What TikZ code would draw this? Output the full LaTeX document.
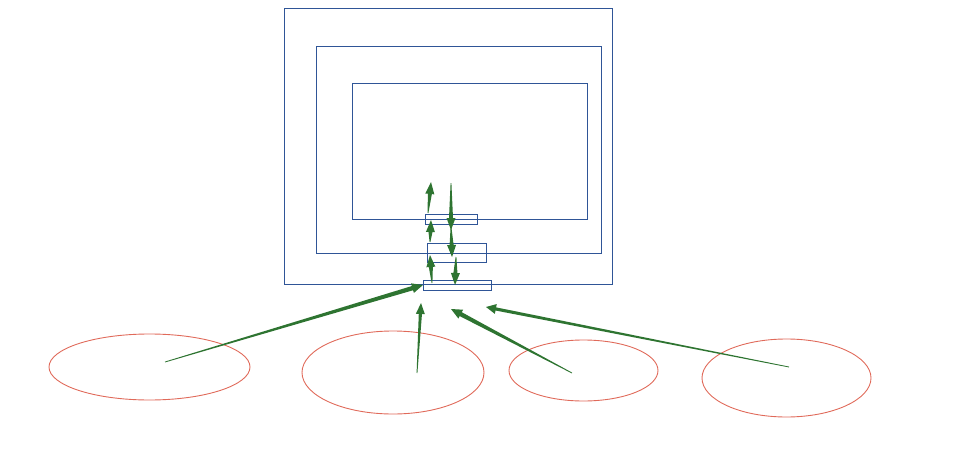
\documentclass[tikz,border=0pt]{standalone}
\usepackage{xcolor}
\usepackage{tikz}
\usetikzlibrary{calc,shapes.geometric}
\definecolor{boxblue}{HTML}{2F5597}
\definecolor{ellred}{HTML}{E06A5A}
\definecolor{arrgreen}{HTML}{2E7431}
\tikzset{
  layer/.style={draw=boxblue,line width=0.9pt,rectangle,inner sep=0pt},
  source/.style={draw=ellred,line width=0.9pt,ellipse,inner sep=0pt}
}
% tapered arrow: tail, tip, shaft half width, head half width, head length
\newcommand{\wedgearrow}[5]{%
  \coordinate (wb) at ($(#2)!#5!(#1)$);
  \fill[arrgreen] ($(#1)!0.4pt!90:(#2)$) -- ($(wb)!#3!90:(#2)$) -- ($(wb)!#4!90:(#2)$)
    -- (#2) -- ($(wb)!#4!-90:(#2)$) -- ($(wb)!#3!-90:(#2)$) -- ($(#1)!0.4pt!-90:(#2)$) -- cycle;
}

\begin{document}
\begin{tikzpicture}[x=1pt,y=-1pt]
\useasboundingbox (0,0) rectangle (953,460);
\node[layer,minimum width=328pt,minimum height=276pt] (outer) at (448,146) {};
\node[layer,minimum width=285pt,minimum height=207pt] (middle) at (458.5,149.5) {};
\node[layer,minimum width=235pt,minimum height=136pt] (inner) at (469.5,151) {};
\node[layer,minimum width=52pt,minimum height=10pt] (gateA) at (451,219) {};
\node[layer,minimum width=59pt,minimum height=19pt] (gateB) at (456.5,252.5) {};
\node[layer,minimum width=68pt,minimum height=10pt] (gateC) at (457,285) {};
\node[source,minimum width=201pt,minimum height=66pt] (srcA) at (149.5,367) {};
\node[source,minimum width=182pt,minimum height=83pt] (srcB) at (393,372.5) {};
\node[source,minimum width=149pt,minimum height=61pt] (srcC) at (583.5,370.5) {};
\node[source,minimum width=169pt,minimum height=78pt] (srcD) at (786.5,378) {};
\coordinate (tA) at (165,362); \coordinate (hA) at (423,285);
\coordinate (tB) at (417,373); \coordinate (hB) at (421,303);
\coordinate (tC) at (572,373); \coordinate (hC) at (451,309);
\coordinate (tD) at (789,367); \coordinate (hD) at (486,307);
\coordinate (u1) at (432,283); \coordinate (u2) at (430,255);
\coordinate (u3) at (430,242); \coordinate (u4) at (431,220);
\coordinate (u5) at (428,213); \coordinate (u6) at (431,182);
\coordinate (d1) at (451,183); \coordinate (d2) at (451,230);
\coordinate (d3) at (451,227); \coordinate (d4) at (452,257);
\coordinate (d5) at (456,257); \coordinate (d6) at (455,285);
\wedgearrow{tA}{hA}{2.2pt}{5pt}{11pt}
\wedgearrow{tB}{hB}{1.6pt}{4.5pt}{11pt}
\wedgearrow{tC}{hC}{2.2pt}{5pt}{11pt}
\wedgearrow{tD}{hD}{1.6pt}{5pt}{10pt}
\wedgearrow{u1}{u2}{2pt}{4.5pt}{12pt}
\wedgearrow{u3}{u4}{2pt}{4.5pt}{12pt}
\wedgearrow{u5}{u6}{2pt}{4.5pt}{12pt}
\wedgearrow{d1}{d2}{2pt}{4.5pt}{12pt}
\wedgearrow{d3}{d4}{2pt}{4.5pt}{12pt}
\wedgearrow{d5}{d6}{2pt}{4.5pt}{12pt}
\end{tikzpicture}
\end{document}
